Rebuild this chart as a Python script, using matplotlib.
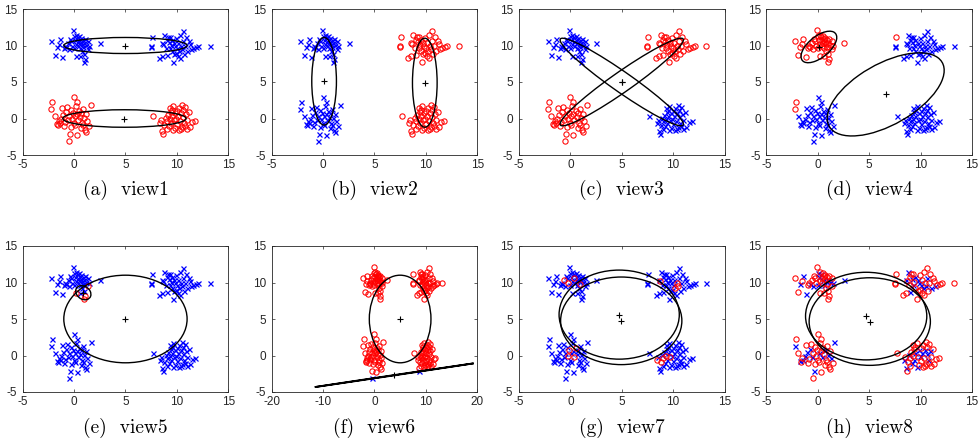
import numpy as np
import matplotlib
matplotlib.use("Agg")
import matplotlib.pyplot as plt
from matplotlib.patches import Ellipse

plt.rcParams["axes.unicode_minus"] = False

# ---- data: four clusters of 2-D points ----
TL = [(-2.2, 10.6), (-1.4, 10.9), (-1.7, 9.8), (-1.9, 8.7), (-1.2, 8.4), (-1.0, 9.6),
      (-0.9, 10.0), (-0.8, 9.8), (-0.6, 10.3), (-0.5, 9.5), (-0.4, 10.9), (-0.1, 12.1),
      (0.0, 11.3), (0.1, 10.8), (0.2, 11.5), (0.2, 10.2), (0.3, 11.1), (0.4, 10.6),
      (0.4, 9.9), (0.5, 11.3), (0.5, 10.3), (0.6, 10.9), (0.6, 9.6), (0.7, 11.0),
      (0.7, 10.5), (0.8, 10.2), (0.8, 9.2), (0.9, 10.8), (0.9, 9.8), (1.0, 10.4),
      (1.0, 8.9), (1.1, 10.9), (1.2, 10.1), (1.4, 9.5), (1.1, 8.2), (1.0, 7.7),
      (1.4, 10.6), (1.5, 9.9), (0.2, 8.5), (0.6, 8.5), (2.5, 10.4), (-0.3, 10.6),
      (0.0, 9.7), (-1.5, 10.2), (-0.2, 10.0)]
TR = [(7.6, 11.2), (7.5, 10.0), (7.5, 9.8), (8.3, 8.3), (8.6, 8.6), (8.6, 10.3),
      (8.7, 10.2), (8.8, 11.4), (9.0, 10.8), (9.1, 11.1), (9.2, 10.5), (9.3, 11.2),
      (9.3, 9.6), (9.4, 10.1), (9.5, 10.8), (9.5, 9.3), (9.6, 7.8), (9.7, 10.4),
      (9.7, 8.9), (9.8, 10.0), (9.9, 11.0), (9.9, 9.0), (10.0, 9.6), (10.1, 10.3),
      (10.1, 8.5), (10.2, 9.2), (10.3, 8.3), (10.4, 10.0), (10.5, 9.5), (10.6, 12.0),
      (10.6, 10.6), (10.7, 8.8), (10.8, 9.9), (10.9, 11.1), (11.0, 9.2), (11.2, 10.6),
      (11.3, 10.2), (11.4, 9.5), (11.6, 9.6), (11.9, 9.8), (12.1, 9.9), (13.2, 9.9),
      (9.0, 8.7), (10.3, 11.4), (8.9, 9.7)]
BL = [(-2.1, 2.3), (-2.2, 1.3), (-1.9, 0.3), (-1.7, -0.8), (-1.6, -0.9), (-1.5, -0.3),
      (-1.3, 0.0), (-1.2, 1.4), (-1.1, 0.5), (-1.0, -1.0), (-0.9, -0.5), (-0.8, 0.9),
      (-0.7, 1.6), (-0.6, -0.2), (-0.5, 0.4), (-0.5, -3.1), (-0.4, -2.1), (-0.3, 1.1),
      (-0.2, 0.0), (-0.1, 0.7), (0.0, 2.9), (0.0, -0.6), (0.1, 0.3), (0.2, 1.7),
      (0.3, 2.2), (0.3, -2.2), (0.3, 0.6), (0.4, -0.2), (0.5, 1.0), (0.6, 0.2),
      (0.7, -1.3), (0.7, 0.8), (0.8, -0.6), (0.9, 1.3), (1.0, 0.1), (1.1, -1.6),
      (1.2, -1.8), (1.2, 0.6), (1.3, -0.3), (1.5, -1.0), (1.6, 1.9), (-0.3, -1.2),
      (0.9, -0.9), (-1.4, -0.6), (0.1, -0.9)]
BR = [(7.7, 0.3), (8.4, -0.6), (8.5, -0.2), (8.6, -1.7), (8.7, -2.1), (8.8, -0.9),
      (8.9, 0.1), (9.0, -0.4), (9.1, 0.5), (9.2, -1.0), (9.3, 1.5), (9.3, 0.0),
      (9.4, -0.6), (9.5, 1.2), (9.5, 0.3), (9.6, -1.6), (9.7, -0.2), (9.8, 0.7),
      (9.8, -1.3), (9.9, 0.0), (10.0, 1.0), (10.0, -0.8), (10.1, 0.4), (10.2, -1.6),
      (10.2, 1.5), (10.3, -0.3), (10.4, 0.8), (10.5, 1.8), (10.5, -1.1), (10.6, 0.2),
      (10.6, 1.2), (10.7, -0.6), (10.8, 1.6), (10.9, 0.6), (11.0, -0.2), (11.0, -1.4),
      (11.2, 0.9), (11.3, -1.2), (11.5, -0.5), (11.8, -0.4), (9.0, -1.5), (10.4, -1.5),
      (9.6, 1.7), (10.8, -1.0), (9.4, 0.9)]
clusters = {"TL": TL, "TR": TR, "BL": BL, "BR": BR}

# cluster labels per view: 0 = blue x, 1 = red o ; flips = point indices with the other label
view_default = [
    {"TL": 0, "TR": 0, "BL": 1, "BR": 1},
    {"TL": 0, "TR": 1, "BL": 0, "BR": 1},
    {"TL": 0, "TR": 1, "BL": 1, "BR": 0},
    {"TL": 1, "TR": 0, "BL": 0, "BR": 0},
    {"TL": 0, "TR": 0, "BL": 0, "BR": 0},
    {"TL": 1, "TR": 1, "BL": 1, "BR": 1},
    {"TL": 0, "TR": 0, "BL": 0, "BR": 0},
    {"TL": 1, "TR": 1, "BL": 1, "BR": 1},
]
view_flips = [
    {}, {}, {},
    {"TR": [0], "BL": [0, 1]},
    {"TL": [33, 34, 35, 38]},
    {"BL": [15], "BR": [4]},
    {"TL": [8, 17, 28, 44], "TR": [6, 27, 28, 25], "BL": [19, 18, 27, 28], "BR": [1, 5, 7, 16, 11]},
    {"TL": [1, 2, 4, 7, 9, 12, 13, 16, 20, 22, 25, 29, 32, 37, 40, 42],
     "TR": [5, 7, 10, 12, 14, 17, 19, 22, 25, 28, 30, 34, 37, 42],
     "BL": [1, 3, 6, 8, 11, 13, 16, 22, 27, 31, 34, 38, 40, 43],
     "BR": [1, 3, 6, 9, 12, 14, 15, 17, 19, 22, 26, 29, 31, 33]},
]

# fitted Gaussian ellipses per view: (cx, cy, width, height, angle_deg)
view_ellipses = [
    [(5.0, 10.0, 12.0, 2.2, 0), (4.9, 0.0, 12.0, 2.4, 0)],
    [(0.1, 5.1, 2.4, 12.0, 0), (9.9, 4.9, 2.4, 12.2, 0)],
    [(5.0, 5.0, 16.8, 2.4, 45), (5.0, 5.0, 16.8, 2.4, -45)],
    [(0.1, 9.8, 5.0, 2.4, 55), (6.6, 3.3, 14.3, 7.4, 45)],
    [(5.0, 5.0, 12.0, 12.0, 0), (0.9, 8.6, 1.4, 2.0, 20)],
    [(5.0, 5.0, 12.0, 12.0, 0), (3.85, -2.7, 31.1, 0.05, 6.0)],
    [(4.75, 5.6, 11.7, 12.2, 0), (4.95, 4.75, 11.8, 12.0, 0)],
    [(4.7, 5.4, 11.8, 12.0, 0), (5.05, 4.65, 11.8, 12.0, 0)],
]
view_xlim = [(-5, 15)] * 5 + [(-20, 20)] + [(-5, 15)] * 2
view_xticks = [[-5, 0, 5, 10, 15]] * 5 + [[-20, -10, 0, 10, 20]] + [[-5, 0, 5, 10, 15]] * 2
yticks = [-5, 0, 5, 10, 15]
captions = ["(a)  view1", "(b)  view2", "(c)  view3", "(d)  view4",
            "(e)  view5", "(f)  view6", "(g)  view7", "(h)  view8"]

# ---- layout ----
W, H = 979, 446
fig = plt.figure(figsize=(W / 100, H / 100), dpi=100)
col_left = [22.7, 271.7, 519.0, 766.5]
ax_w = 205.5
row_top = [9.0, 246.0]
ax_h = 146.0
cap_y = [190.0, 428.0]

for v in range(8):
    r, c = divmod(v, 4)
    ax = fig.add_axes([col_left[c] / W, 1 - (row_top[r] + ax_h) / H, ax_w / W, ax_h / H])
    blue_x, blue_y, red_x, red_y = [], [], [], []
    for name, pts in clusters.items():
        d = view_default[v][name]
        flips = set(view_flips[v].get(name, []))
        for i, (px, py) in enumerate(pts):
            lab = (1 - d) if i in flips else d
            if lab == 0:
                blue_x.append(px); blue_y.append(py)
            else:
                red_x.append(px); red_y.append(py)
    ax.plot(blue_x, blue_y, linestyle="none", marker="x", color="#0000ff",
            markersize=3.6, markeredgewidth=0.9)
    ax.plot(red_x, red_y, linestyle="none", marker="o", color="#ff0000",
            markerfacecolor="none", markersize=3.8, markeredgewidth=0.75)
    for (cx, cy, ew, eh, ang) in view_ellipses[v]:
        lw = 1.3 if eh < 0.1 else 1.0
        ax.add_patch(Ellipse((cx, cy), ew, eh, angle=ang, fill=False,
                             edgecolor="black", linewidth=lw, zorder=3))
        ax.plot([cx], [cy], marker="+", color="black", markersize=5,
                markeredgewidth=0.8, zorder=4)
    ax.set_xlim(*view_xlim[v])
    ax.set_ylim(-5, 15)
    ax.set_xticks(view_xticks[v])
    ax.set_yticks(yticks)
    ax.tick_params(direction="in", length=2.5, width=0.5, labelsize=8.5,
                   colors="#262626", top=True, right=True)
    ax.tick_params(axis="x", pad=3)
    ax.tick_params(axis="y", pad=4)
    for lbl in ax.get_xticklabels() + ax.get_yticklabels():
        lbl.set_family("Liberation Sans")
    for s in ax.spines.values():
        s.set_color("#262626")
        s.set_linewidth(0.6)
    fig.text((col_left[c] + ax_w / 2) / W, 1 - cap_y[r] / H, captions[v],
             ha="center", va="center", fontsize=14, family="cmr10")

fig.savefig("out.png", dpi=100)
